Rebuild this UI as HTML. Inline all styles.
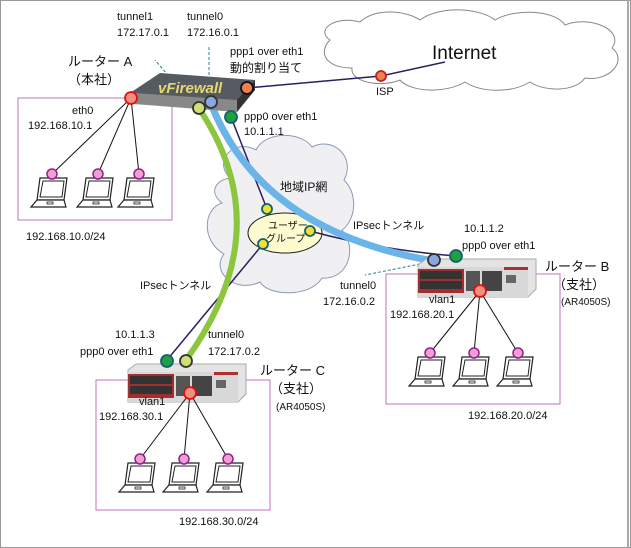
<!DOCTYPE html>
<html><head><meta charset="utf-8"><style>
html,body{margin:0;padding:0;background:#fff}
svg{display:block}
text{font-family:"Liberation Sans","Noto Sans CJK JP",sans-serif;font-size:11px;fill:#111}
</style></head><body>
<svg width="631" height="548" viewBox="0 0 631 548" xmlns="http://www.w3.org/2000/svg">
<defs>
<g id="lap">
<path d="M-12,4 L15,4 L12,26 L-15,26 Z" fill="#fff" stroke="#222" stroke-width="1.2"/>
<path d="M-9,7 L12,7 L10,23 L-12,23 Z" fill="#fff" stroke="#222" stroke-width="1"/>
<path d="M-15,26 L12,26 L14,33 L-21,33 Z" fill="#fff" stroke="#222" stroke-width="1.2"/>
<rect x="-5" y="28" width="6" height="2" fill="none" stroke="#222" stroke-width="0.8"/>
</g>
<g id="ar">
<path d="M0,6 L8,0 L118,0 L118,30 L110,38 L0,38 Z" fill="#e4e4e4" stroke="#aaa"/>
<rect x="0" y="8" width="110" height="30" fill="#d8d8d8"/>
<rect x="0" y="10" width="46" height="24" fill="#a03030"/>
<rect x="2" y="12" width="42" height="8" fill="#333"/><rect x="2" y="22" width="42" height="8" fill="#333"/>
<rect x="48" y="12" width="14" height="20" fill="#555"/>
<rect x="64" y="12" width="20" height="20" fill="#444"/>
<rect x="88" y="16" width="10" height="8" fill="#666"/>
<rect x="86" y="8" width="24" height="3" fill="#b03030"/>
</g>
</defs>
<rect x="0.5" y="0.5" width="630" height="547" fill="#fff" stroke="#999"/>
<line x1="628" y1="0" x2="628" y2="548" stroke="#aaa" stroke-width="2"/>
<path d="M330,40 C315,30 335,15 360,22 C375,8 405,10 420,20 C440,5 480,8 495,20 C515,8 555,10 565,25 C590,15 625,30 612,48 C628,60 610,82 585,78 C575,92 545,92 530,82 C510,94 480,92 465,82 C445,94 410,92 400,80 C380,88 350,82 352,68 C325,68 318,52 330,40 Z" fill="#fff" stroke="#888"/>
<text x="432" y="59" style="font-size:19px">Internet</text>
<path d="M230,178 C212,160 235,138 256,150 C266,130 302,132 312,147 C334,136 356,158 344,180 C360,196 354,222 342,230 C358,248 348,280 322,278 C310,298 268,296 260,282 C236,294 210,272 224,254 C200,240 204,208 222,203 C208,192 216,180 230,178 Z" fill="#f0f0f2" stroke="#8a9ab8"/>
<text x="280" y="191" style="font-size:12px">地域IP網</text>
<ellipse cx="285" cy="233" rx="37" ry="20" fill="#fffbd0" stroke="#222"/>
<text x="268" y="229" style="font-size:10px">ユーザー</text>
<text x="266" y="242" style="font-size:10px">グループ</text>
<rect x="18" y="98" width="154" height="122" fill="none" stroke="#c070c0"/>
<rect x="386" y="274" width="174" height="130" fill="none" stroke="#c070c0"/>
<rect x="96" y="380" width="174" height="130" fill="none" stroke="#c070c0"/>
<path d="M247,88 L381,76 L445,62" stroke="#2a2060" stroke-width="1.5" fill="none"/>
<path d="M231,117 L267,209" stroke="#2a2060" stroke-width="1.5"/>
<path d="M310,231 Q380,250 456,256" stroke="#2a2060" stroke-width="1.5" fill="none"/>
<path d="M263,244 L167,360" stroke="#2a2060" stroke-width="1.5"/>
<path d="M211,104 Q262,232 434,261" stroke="#6ab4e8" stroke-width="7" fill="none"/>
<path d="M200,110 Q280,230 186,360" stroke="#8cc63f" stroke-width="6" fill="none"/>
<path d="M198,110 L155,60 M209,100 L209,45 M430,262 L365,275" stroke="#2a8090" stroke-dasharray="3,2" fill="none"/>
<path d="M130,93 L160,73 L255,80 L237,102 L134,102 Z" fill="#555b60"/>
<path d="M134,93 L237,100 L237,112 L134,104 Z" fill="#888"/>
<path d="M237,100 L255,80 L255,90 L237,112 Z" fill="#333"/>
<text x="158" y="93" style="font-size:15px;font-weight:bold;font-style:italic;fill:#e8d870">vFirewall</text>
<use href="#ar" x="418" y="259"/>
<use href="#ar" x="128" y="364"/>
<g stroke="#111" stroke-width="1">
<path d="M131,98 L52,174 M131,98 L98,174 M131,98 L139,174"/>
<path d="M480,291 L430,353 M480,291 L474,353 M480,291 L518,353"/>
<path d="M190,393 L140,459 M190,393 L184,459 M190,393 L228,459"/>
</g>
<use href="#lap" x="52" y="174"/><use href="#lap" x="98" y="174"/><use href="#lap" x="139" y="174"/>
<use href="#lap" x="430" y="353"/><use href="#lap" x="474" y="353"/><use href="#lap" x="518" y="353"/>
<use href="#lap" x="140" y="459"/><use href="#lap" x="184" y="459"/><use href="#lap" x="228" y="459"/>
<g stroke="#902090" stroke-width="1.5" fill="#f0a0d0">
<circle cx="52" cy="174" r="5"/><circle cx="98" cy="174" r="5"/><circle cx="139" cy="174" r="5"/>
<circle cx="430" cy="353" r="5"/><circle cx="474" cy="353" r="5"/><circle cx="518" cy="353" r="5"/>
<circle cx="140" cy="459" r="5"/><circle cx="184" cy="459" r="5"/><circle cx="228" cy="459" r="5"/>
</g>
<g stroke-width="1.8">
<circle cx="131" cy="98" r="6" fill="#f09080" stroke="#e01010"/>
<circle cx="480" cy="291" r="6" fill="#f09080" stroke="#e01010"/>
<circle cx="190" cy="393" r="6" fill="#f09080" stroke="#e01010"/>
<circle cx="247" cy="88" r="6" fill="#f08050" stroke="#111"/>
<circle cx="381" cy="76" r="5" fill="#f08050" stroke="#c02020"/>
<circle cx="199" cy="108" r="6" fill="#d0e070" stroke="#333"/>
<circle cx="186" cy="361" r="6" fill="#d0e070" stroke="#333"/>
<circle cx="211" cy="102" r="6" fill="#8aa8e0" stroke="#333"/>
<circle cx="434" cy="260" r="6" fill="#8aa8e0" stroke="#333"/>
<circle cx="231" cy="117" r="6" fill="#20a040" stroke="#106070"/>
<circle cx="456" cy="256" r="6" fill="#20a040" stroke="#106070"/>
<circle cx="167" cy="361" r="6" fill="#20a040" stroke="#106070"/>
<circle cx="267" cy="209" r="5" fill="#f0e030" stroke="#106070"/>
<circle cx="310" cy="231" r="5" fill="#f0e030" stroke="#106070"/>
<circle cx="263" cy="244" r="5" fill="#f0e030" stroke="#106070"/>
</g>
<text x="117" y="20">tunnel1</text><text x="117" y="36">172.17.0.1</text>
<text x="187" y="20">tunnel0</text><text x="187" y="36">172.16.0.1</text>
<text x="230" y="55">ppp1 over eth1</text><text x="230" y="72" style="font-size:12px">動的割り当て</text>
<text x="376" y="95">ISP</text>
<text x="68" y="66" style="font-size:13px">ルーター A</text><text x="68" y="84" style="font-size:13px">（本社）</text>
<text x="72" y="114">eth0</text><text x="28" y="129">192.168.10.1</text>
<text x="244" y="120">ppp0 over eth1</text><text x="244" y="135">10.1.1.1</text>
<text x="26" y="240">192.168.10.0/24</text>
<text x="353" y="229">IPsecトンネル</text>
<text x="464" y="232">10.1.1.2</text><text x="462" y="249">ppp0 over eth1</text>
<text x="545" y="271" style="font-size:13px">ルーター B</text><text x="553" y="289" style="font-size:13px">（支社）</text>
<text x="561" y="305" style="font-size:10px">(AR4050S)</text>
<text x="340" y="289">tunnel0</text><text x="323" y="305">172.16.0.2</text>
<text x="429" y="303">vlan1</text><text x="390" y="318">192.168.20.1</text>
<text x="468" y="419">192.168.20.0/24</text>
<text x="140" y="289">IPsecトンネル</text>
<text x="115" y="338">10.1.1.3</text><text x="80" y="355">ppp0 over eth1</text>
<text x="208" y="338">tunnel0</text><text x="208" y="355">172.17.0.2</text>
<text x="260" y="375" style="font-size:13px">ルーター C</text><text x="270" y="393" style="font-size:13px">（支社）</text>
<text x="276" y="410" style="font-size:10px">(AR4050S)</text>
<text x="139" y="405">vlan1</text><text x="99" y="420">192.168.30.1</text>
<text x="179" y="525">192.168.30.0/24</text>
</svg>
</body></html>
